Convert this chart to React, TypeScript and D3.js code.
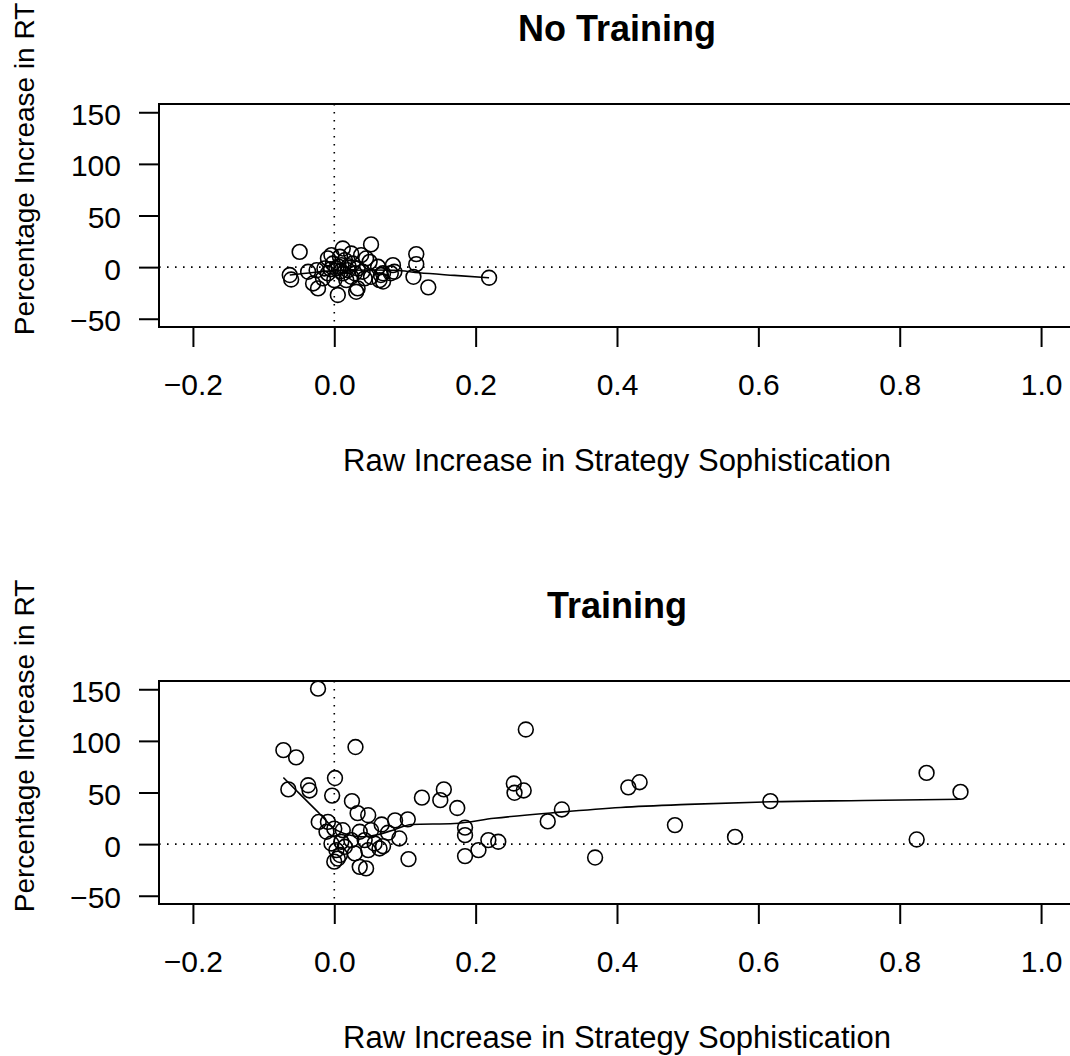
import React, { useEffect, useRef } from "react";
import * as d3 from "d3";

// No Training: [raw increase in strategy sophistication, % increase in RT]
const noTrainingPoints: [number, number][] = [
  [-0.049, 14.8], [0.052, 22], [0.012, 18], [-0.063, -7.7], [-0.061, -12],
  [-0.037, -4.5], [-0.025, -3], [-0.03, -15.8], [-0.023, -20.6], [-0.014, -1.3],
  [-0.009, 8.4], [-0.004, 11.6], [0.008, 10], [0.024, 13.2], [0.038, 11.6],
  [0.045, 8.4], [0.05, 5.1], [0.062, 0.3], [0.083, 1.9], [0.085, -4.5],
  [0.066, -7.7], [0.064, -12.6], [0.052, -9.4], [0.043, -10.9], [0.005, -27],
  [0.031, -23.9], [0.033, -20.6], [0.017, -12.6], [0.0, -12.6], [-0.016, -10.9],
  [0.01, 1.9], [0.003, -1.3], [0.019, -3], [0.026, 3.5], [-0.002, 3.5],
  [0.015, 6.8], [0.033, -1.3], [0.04, -4.5], [-0.009, -6.1], [0.012, -6.1],
  [0.024, -9.4], [0.116, 12.6], [0.116, 2.9], [0.112, -9.4], [0.133, -19.6],
  [0.219, -10.3], [0.08, -6], [0.069, -14], [0.069, -6], [0.006, 0.5],
  [0.02, 1], [0.009, -4], [-0.005, -2], [0.029, -6],
];
const noTrainingSmooth: [number, number][] = [
  [-0.063, -7.7], [-0.03, -5.2], [0.0, -3.4], [0.05, -2.8], [0.085, -3],
  [0.12, -5.5], [0.17, -8], [0.219, -10.3],
];

// Training
const trainingPoints: [number, number][] = [
  [-0.023, 150.6], [-0.072, 91], [-0.054, 84], [0.03, 94], [0.001, 64],
  [-0.065, 53], [-0.037, 57], [-0.035, 52], [-0.003, 47], [0.025, 41.6],
  [0.033, 30], [0.048, 28], [-0.022, 21.5], [-0.009, 21.5], [0.067, 19],
  [0.086, 23], [0.104, 24], [0.0, 15], [0.012, 13.5], [-0.011, 12],
  [0.036, 12], [0.052, 13.5], [0.076, 11], [0.092, 5.5], [-0.004, 0.6],
  [0.01, 2.2], [0.024, 3.9], [0.043, 3.9], [0.057, 0.6], [0.069, -2],
  [0.003, -5.8], [0.008, -10.6], [0.029, -9], [0.048, -5.8], [0.064, -4.2],
  [0.0, -17], [0.036, -22], [0.045, -23.5], [0.105, -14.5], [0.005, -14],
  [0.015, -2.6], [0.124, 45], [0.155, 53], [0.15, 42.6], [0.174, 35],
  [0.185, 16], [0.185, 8.7], [0.185, -11.6], [0.204, -5.8], [0.218, 3.9],
  [0.232, 2.3], [0.254, 58.7], [0.255, 49.7], [0.268, 52], [0.271, 111],
  [0.302, 22], [0.322, 33.6], [0.369, -13], [0.416, 55], [0.432, 60],
  [0.482, 18.4], [0.567, 7], [0.617, 41.6], [0.824, 4.5], [0.838, 69],
  [0.886, 50.6],
];
const trainingSmooth: [number, number][] = [
  [-0.072, 64.5], [-0.045, 46], [-0.021, 29.7], [0.0, 15], [0.02, 9],
  [0.038, 7], [0.06, 9], [0.085, 14], [0.109, 19], [0.17, 20],
  [0.226, 25], [0.32, 31], [0.405, 35.5], [0.5, 38.5], [0.617, 41],
  [0.75, 42.2], [0.886, 43.5],
];

const xTicks = [-0.2, 0, 0.2, 0.4, 0.6, 0.8, 1.0];
const yTicks = [-50, 0, 50, 100, 150];

const panels = [
  { title: "No Training", points: noTrainingPoints, smooth: noTrainingSmooth, offset: 0 },
  { title: "Training", points: trainingPoints, smooth: trainingSmooth, offset: 577 },
];

const W = 1070;
const H = 1056;
const FONT = "'Liberation Sans', Arial, Helvetica, sans-serif";
const FS = 30;

export default function App() {
  const ref = useRef<SVGSVGElement>(null);

  useEffect(() => {
    const svg = d3.select(ref.current);
    svg.selectAll("*").remove();

    const left = 159, right = 1075;

    panels.forEach((p) => {
      const top = 104 + p.offset;
      const bottom = 327 + p.offset;

      const x = d3.scaleLinear().domain([-0.248, 1.048]).range([left, right]);
      const y = d3.scaleLinear().domain([-58, 158]).range([bottom, top]);

      const g = svg.append("g");

      // reference lines at zero
      g.append("line")
        .attr("x1", left).attr("x2", right)
        .attr("y1", y(0)).attr("y2", y(0))
        .attr("stroke", "#000").attr("stroke-width", 1.6)
        .attr("stroke-dasharray", "1.6,6.4");
      g.append("line")
        .attr("x1", x(0)).attr("x2", x(0))
        .attr("y1", top).attr("y2", bottom)
        .attr("stroke", "#000").attr("stroke-width", 1.6)
        .attr("stroke-dasharray", "1.6,6.4");

      g.append("g")
        .selectAll("circle")
        .data(p.points)
        .join("circle")
        .attr("cx", (d) => x(d[0]))
        .attr("cy", (d) => y(d[1]))
        .attr("r", 7.4)
        .attr("fill", "none")
        .attr("stroke", "#000")
        .attr("stroke-width", 1.6);

      // smoother
      const line = d3.line<[number, number]>()
        .x((d) => x(d[0]))
        .y((d) => y(d[1]))
        .curve(d3.curveMonotoneX);
      g.append("path")
        .attr("d", line(p.smooth))
        .attr("fill", "none")
        .attr("stroke", "#000")
        .attr("stroke-width", 1.6);

      g.append("rect")
        .attr("x", left).attr("y", top)
        .attr("width", right - left).attr("height", bottom - top)
        .attr("fill", "none")
        .attr("stroke", "#000")
        .attr("stroke-width", 2);

      // x axis
      const xAxis = g.append("g")
        .attr("transform", `translate(0,${bottom})`)
        .call(
          d3.axisBottom(x)
            .tickValues(xTicks)
            .tickFormat(d3.format(".1f") as any)
            .tickSize(20)
            .tickSizeOuter(0)
        );
      xAxis.select(".domain").remove();
      xAxis.selectAll("line").attr("stroke-width", 2);
      xAxis.selectAll("text")
        .attr("y", 68)
        .attr("dy", 0)
        .attr("font-family", FONT)
        .attr("font-size", FS)
        .attr("fill", "#000");

      // y axis
      const yAxis = g.append("g")
        .attr("transform", `translate(${left},0)`)
        .call(
          d3.axisLeft(y)
            .tickValues(yTicks)
            .tickFormat(d3.format("d") as any)
            .tickSize(20)
            .tickSizeOuter(0)
        );
      yAxis.select(".domain").remove();
      yAxis.selectAll("line").attr("stroke-width", 2);
      yAxis.selectAll("text")
        .attr("x", -38)
        .attr("dy", "0.4em")
        .attr("font-family", FONT)
        .attr("font-size", FS)
        .attr("fill", "#000");

      // titles
      g.append("text")
        .attr("x", (left + right) / 2)
        .attr("y", 41 + p.offset)
        .attr("text-anchor", "middle")
        .attr("font-family", FONT)
        .attr("font-weight", "bold")
        .attr("font-size", 36)
        .text(p.title);

      g.append("text")
        .attr("x", (left + right) / 2)
        .attr("y", 471 + p.offset)
        .attr("text-anchor", "middle")
        .attr("font-family", FONT)
        .attr("font-size", 31)
        .text("Raw Increase in Strategy Sophistication");

      g.append("text")
        .attr("transform", `translate(34,${top + 65}) rotate(-90)`)
        .attr("text-anchor", "middle")
        .attr("font-family", FONT)
        .attr("font-size", 28)
        .text("Percentage Increase in RT");
    });
  }, []);

  return (
    <svg
      ref={ref}
      width={W}
      height={H}
      style={{ position: "absolute", left: 0, top: 0, background: "#fff" }}
    />
  );
}
